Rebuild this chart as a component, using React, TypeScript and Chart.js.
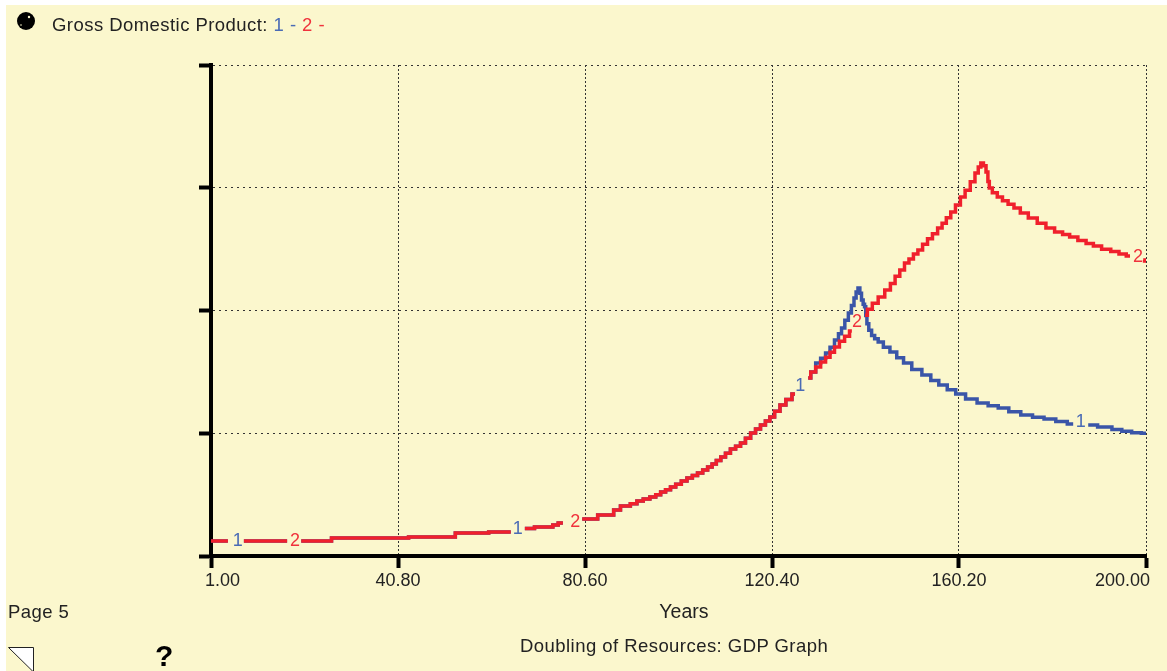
import React, { useEffect, useRef } from "react";
import { Chart, registerables } from "chart.js";

Chart.register(...registerables);

const tickYears = [1, 40.8, 80.6, 120.4, 160.2, 200];
const valueTicks = [0, 100, 200, 300, 400];

const sharedYears = [1, 4.6, 6.3, 8.0, 17.2, 18.7, 20.2, 26.5, 26.8, 42.9, 43.2, 52.9, 53.1, 60, 60.2, 64.8, 66.3, 67.8, 69.7, 70, 73.6, 73.9, 75.9, 78, 80, 83.2, 83.4, 86.6, 86.8, 89.5, 91, 92.3, 93.7, 95.1, 96.2, 97.2, 98.3, 99.3, 100.5, 101.7, 102.9, 104, 105.1, 106.2, 107.2, 108.1, 109, 110, 111, 112.1, 113.2, 114.2, 115.3, 116.4, 117.4, 118.5, 119.5, 120.4, 121.5, 122.7, 124, 125.3, 126.7, 128.1, 129.2];
const sharedValues: (number | null)[] = [12.2, 12.2, null, 12.2, 12.2, null, 12.2, 12.2, 14.7, 14.7, 15.5, 15.5, 18.7, 18.7, 19.6, 19.6, null, 22.4, 22.4, 23.6, 23.6, 25.3, 26.9, null, 30.1, 30.1, 33.4, 33.4, 37.5, 40.7, 42.5, 44.8, 46.5, 48.1, 50, 52.1, 54, 56.2, 58.5, 61, 63.5, 65.5, 67.6, 70, 72.5, 75, 77.8, 80.6, 83.8, 87.1, 89.5, 92, 96, 100.2, 103.5, 106.8, 110, 113.3, 118, 123.1, 127.5, 132, null, 145, 150];

const redTailYears = [130.2, 131.3, 132.3, 133.2, 134.2, 135.3, 136.4, 137.4, 138.8, 140.2, 141.2, 142.3, 143.7, 145.1, 146.1, 147.1, 148.1, 149.1, 150, 151, 151.9, 153, 154, 155.1, 156.2, 157, 158, 158.9, 160, 161, 162, 163.2, 164, 164.6, 165.1, 165.7, 166.2, 166.5, 166.8, 167.8, 168.9, 170, 171.3, 172.5, 174, 175.9, 177.8, 179.6, 181.5, 183, 184.5, 186.5, 188, 189.6, 191.5, 193.5, 195, 196.6, 198, 199.4, 200];
const redTailValues: (number | null)[] = [154, 158, 162, 166, 170.2, 175, 179, 183.2, null, 196.2, 201, 206, 211, 216.6, 222, 228, 233, 238.7, 242, 246, 249.3, 254, 258.5, 262.5, 267.2, 271, 275.5, 280.3, 286, 292.5, 298, 304.8, 312, 317, 320.2, 318, 312.8, 305, 299.8, 296, 292.5, 289.5, 286.5, 283.5, 279.5, 275.3, 271, 267.2, 264, 262, 259.8, 257, 254.5, 252.5, 250, 248, 246, 244.3, null, 241.2, 240.4];

const blueTailYears = [130.2, 131.3, 132.3, 133.2, 134.2, 134.9, 135.5, 136.3, 137, 137.6, 138.1, 138.5, 138.9, 139.3, 139.6, 140, 140.2, 140.5, 140.7, 141.3, 141.9, 142.6, 143.4, 144.8, 146.2, 147.7, 149.1, 151.2, 153.4, 155, 156.8, 158.6, 160.4, 162.8, 165.3, 167.5, 169.6, 172, 174.7, 177, 179.6, 182, 184.5, 186.1, 187.7, 191.7, 193.8, 195.9, 198, 200];
const blueTailValues: (number | null)[] = [157.2, 161, 165.4, 170, 176, 181, 185.7, 192, 197.9, 204, 210.1, 215, 218.3, 214, 208.6, 205, 203, 196, 189.3, 184, 179.6, 177, 174.3, 170, 166.2, 161.5, 157.2, 152, 147.5, 143, 139.4, 135.5, 132, 128, 124.7, 122.5, 120.6, 117.5, 114.9, 113, 111.6, 109.5, 107.5, null, 106.7, 105, 103, 101.7, 100.5, 100];

const labelTexts = ["1", "2", "1", "2", "1", "2", "1", "2"];
const labelYears = [6.7, 18.9, 66.3, 78.5, 126.4, 138.5, 186.1, 198.3];
const labelValues = [12.2, 12.2, 22, 28, 138.5, 191, 109, 243.6];

const redYears = [...sharedYears, ...redTailYears];
const redValues = [...sharedValues, ...redTailValues];
const blueYears = [...sharedYears, ...blueTailYears];
const blueValues = [...sharedValues, ...blueTailValues];

const BLUE = "#3A55A8";
const RED = "#F0202C";
const BLUE_TEXT = "#4A6BB5";
const RED_TEXT = "#F0323C";
const INK = "#222222";
const SANS = '"Liberation Sans", Arial, sans-serif';

const pts = (xs: number[], ys: (number | null)[]) => xs.map((x, i) => ({ x, y: ys[i] }));

const seriesLabels = {
  id: "seriesLabels",
  afterDatasetsDraw(chart: any) {
    const { ctx, scales } = chart;
    ctx.save();
    ctx.font = `18px ${SANS}`;
    ctx.textAlign = "center";
    ctx.textBaseline = "middle";
    labelTexts.forEach((t, i) => {
      ctx.fillStyle = t === "1" ? BLUE_TEXT : RED_TEXT;
      ctx.fillText(t, scales.x.getPixelForValue(labelYears[i]), scales.y.getPixelForValue(labelValues[i]));
    });
    ctx.restore();
  },
};

const nudgeEnds = {
  id: "nudgeEnds",
  beforeDraw(chart: any) {
    const items = chart.scales.x.getLabelItems();
    if (items.length && !items.__nudged) {
      items[0].options.translation[0] -= 6;
      items[items.length - 1].options.translation[0] += 4;
      items.__nudged = true;
    }
  },
};

const textStyle: React.CSSProperties = {
  position: "absolute",
  fontFamily: SANS,
  fontSize: 18.5,
  letterSpacing: "0.45px",
  lineHeight: "22px",
  color: INK,
  whiteSpace: "pre",
};

export default function App() {
  const ref = useRef<HTMLCanvasElement>(null);
  useEffect(() => {
    const chart = new Chart(ref.current!, {
      type: "line",
      data: {
        datasets: [
          { label: "1", order: 2, data: pts(blueYears, blueValues) as any, borderColor: BLUE, borderWidth: 3.5, pointRadius: 0, stepped: "middle", spanGaps: false },
          { label: "2", order: 1, data: pts(redYears, redValues) as any, borderColor: RED, borderWidth: 3.5, pointRadius: 0, stepped: "middle", spanGaps: false },
        ],
      },
      options: {
        animation: false,
        responsive: false,
        devicePixelRatio: 1,
        layout: { padding: { top: 65, right: 21, left: 0, bottom: 0 } },
        plugins: { legend: { display: false }, title: { display: false }, tooltip: { enabled: false } },
        scales: {
          x: {
            type: "linear",
            min: 1,
            max: 200,
            afterBuildTicks: (s: any) => { s.ticks = tickYears.map((value) => ({ value })); },
            afterFit: (s: any) => { s.height = 115; },
            ticks: {
              autoSkip: false,
              maxRotation: 0,
              align: "inner",
              padding: 2,
              color: INK,
              font: { family: SANS, size: 18 },
              callback: (v: any) => Number(v).toFixed(2),
            },
            grid: { color: "#333333", lineWidth: 1, tickColor: "#000000", tickWidth: 4, tickLength: 12 } as any,
            border: { display: true, color: "#000000", width: 4, dash: [2, 2] } as any,
            title: { display: true, text: "  Years", color: INK, font: { family: SANS, size: 19.5 }, padding: { top: 0, bottom: 47 } },
          },
          y: {
            min: 0,
            max: 400,
            afterBuildTicks: (s: any) => { s.ticks = valueTicks.map((value) => ({ value })); },
            afterFit: (s: any) => { s.width = 211; },
            ticks: { display: false },
            grid: { color: "#333333", lineWidth: 1, tickColor: "#000000", tickWidth: 4, tickLength: 12 } as any,
            border: { display: true, color: "#000000", width: 4, dash: [2, 4] } as any,
          },
        },
      } as any,
      plugins: [seriesLabels, nudgeEnds],
    });
    return () => chart.destroy();
  }, []);

  return (
    <div style={{ position: "fixed", inset: 0, background: "#FFFFFF", overflow: "hidden" }}>
      <div style={{ position: "absolute", left: 6, top: 5, right: 0, bottom: 0, background: "#FBF7CD" }} />
      <canvas ref={ref} width={1167} height={671} style={{ position: "absolute", left: 0, top: 0, width: 1167, height: 671 }} />
      <div style={{ ...textStyle, left: 52, top: 14 }}>
        Gross Domestic Product: <span style={{ color: BLUE_TEXT }}>1 - </span>
        <span style={{ color: RED_TEXT }}>2 -</span>
      </div>
      <div style={{ ...textStyle, left: 8, top: 601 }}>Page 5</div>
      <div style={{ ...textStyle, left: 520, top: 635 }}>Doubling of Resources: GDP Graph</div>
      <div style={{ ...textStyle, left: 155, top: 640, fontWeight: 700, fontSize: 30, lineHeight: "32px", color: "#000" }}>?</div>
      <svg width={1167} height={671} style={{ position: "absolute", left: 0, top: 0, pointerEvents: "none" }}>
        <circle cx={26} cy={21} r={9} fill="#000" />
        <circle cx={29} cy={17} r={1.2} fill="#FBF7CD" />
        <circle cx={21} cy={25} r={0.8} fill="#FBF7CD" />
        <polygon points="8.5,647.5 33.5,647.5 33.5,672" fill="#FFFFFF" stroke="#222" strokeWidth={1} />
      </svg>
    </div>
  );
}
